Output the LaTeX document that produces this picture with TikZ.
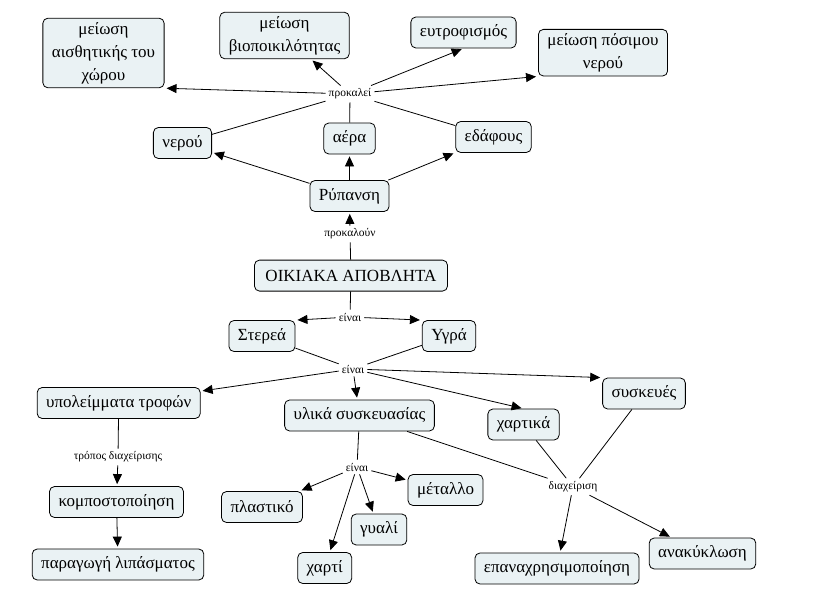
\documentclass[tikz,border=0pt]{standalone}
\usepackage{fontspec}
\setmainfont{Liberation Serif}
\usetikzlibrary{arrows.meta}
\definecolor{kouti}{RGB}{234,242,244}

\begin{document}
\begin{tikzpicture}[x=1pt,y=-1pt,
		concept/.style={draw,fill=kouti,rounded corners=5pt,line width=0.8pt,
			font=\fontsize{17}{23}\selectfont,inner xsep=9pt,inner ysep=4pt,
			minimum height=31pt,align=center},
		link/.style={font=\fontsize{11.5}{12}\selectfont,inner sep=3pt},
		arr/.style={-{Triangle[length=10pt,width=9pt]},line width=0.8pt,shorten >=2pt},
		lin/.style={line width=0.8pt}]
		\useasboundingbox (0,0) rectangle (813,607);
		% top row
		\node (aisthitiki)    [concept] at (103.5,53)  {μείωση\\αισθητικής του\\χώρου};
		\node (viopoikilotita)[concept] at (284.5,35.5) {μείωση\\βιοποικιλότητας};
		\node (eutrofismos)   [concept] at (463.5,32.5) {ευτροφισμός};
		\node (posimo)        [concept] at (603,52.7)  {μείωση πόσιμου\\νερού};
		\node (prokalei)      [link]    at (350,94)    {προκαλεί};
		\node (nerou)         [concept] at (182.5,143) {νερού};
		\node (aera)          [concept] at (349.5,138.5) {αέρα};
		\node (edafous)       [concept] at (493.5,137) {εδάφους};
		\node (rypansi)       [concept] at (349.5,196) {Ρύπανση};
		\node (prokaloun)     [link]    at (350,234)   {προκαλούν};
		\node (apovlita)      [concept,inner xsep=11pt] at (351,275.6) {ΟΙΚΙΑΚΑ ΑΠΟΒΛΗΤΑ};
		\node (einaiA)        [link]    at (350,317)   {είναι};
		\node (sterea)        [concept] at (262,336)   {Στερεά};
		\node (ygra)          [concept] at (449,336)   {Υγρά};
		\node (einaiB)        [link]    at (353,369)   {είναι};
		% bottom part
		\node (ypoleimmata)   [concept] at (118.7,403) {υπολείμματα τροφών};
		\node (tropos)        [link]    at (118,457)   {τρόπος διαχείρισης};
		\node (kompost)       [concept] at (116.5,502) {κομποστοποίηση};
		\node (lipasma)       [concept] at (118,564.5) {παραγωγή λιπάσματος};
		\node (ylika)         [concept] at (359.5,415.5) {υλικά συσκευασίας};
		\node (einaiC)        [link]    at (357,467)   {είναι};
		\node (plastiko)      [concept] at (262,507)   {πλαστικό};
		\node (gyali)         [concept] at (379,529.5) {γυαλί};
		\node (xarti)         [concept] at (324.7,568) {χαρτί};
		\node (metallo)       [concept] at (445.5,490) {μέταλλο};
		\node (xartika)       [concept] at (523.5,424.5) {χαρτικά};
		\node (syskeves)      [concept] at (644,393.5) {συσκευές};
		\node (diaxeirisi)    [link]    at (573,486.7) {διαχείριση};
		\node (epanaxrisi)    [concept] at (557,568.5) {επαναχρησιμοποίηση};
		\node (anakyklosi)    [concept] at (702.5,553.5) {ανακύκλωση};
		% connectors
		\draw [arr] (rypansi) -- (nerou);
		\draw [arr] (rypansi) -- (aera);
		\draw [arr] (rypansi) -- (edafous);
		\draw [lin] (nerou) -- (prokalei);
		\draw [lin] (aera) -- (prokalei);
		\draw [lin] (edafous) -- (prokalei);
		\draw [arr] (prokalei) -- (aisthitiki.south east);
		\draw [arr] (prokalei) -- (viopoikilotita);
		\draw [arr] (prokalei) -- (eutrofismos.south);
		\draw [arr] (prokalei) -- (posimo.south west);
		\draw [lin] (apovlita) -- (prokaloun);
		\draw [arr] (prokaloun) -- (rypansi);
		\draw [lin] (apovlita) -- (einaiA);
		\draw [arr] (einaiA) -- (sterea.north east);
		\draw [arr] (einaiA) -- (ygra.north west);
		\draw [lin] (sterea) -- (einaiB);
		\draw [lin] (ygra) -- (einaiB);
		\draw [arr] (einaiB) -- (ypoleimmata);
		\draw [arr] (einaiB) -- (ylika);
		\draw [arr] (einaiB) -- (xartika.north);
		\draw [arr] (einaiB) -- (syskeves.north west);
		\draw [lin] (ypoleimmata) -- (tropos);
		\draw [arr] (tropos) -- (kompost);
		\draw [arr] (kompost) -- (lipasma);
		\draw [lin] (ylika) -- (einaiC);
		\draw [arr] (einaiC) -- (plastiko);
		\draw [arr] (einaiC) -- (xarti);
		\draw [arr] (einaiC) -- (gyali);
		\draw [arr] (einaiC) -- (metallo);
		\draw [lin] (ylika) -- (diaxeirisi);
		\draw [lin] (xartika) -- (diaxeirisi);
		\draw [lin] (syskeves) -- (diaxeirisi);
		\draw [arr] (diaxeirisi) -- (epanaxrisi);
		\draw [arr] (diaxeirisi) -- (anakyklosi);
	\end{tikzpicture}
\end{document}
